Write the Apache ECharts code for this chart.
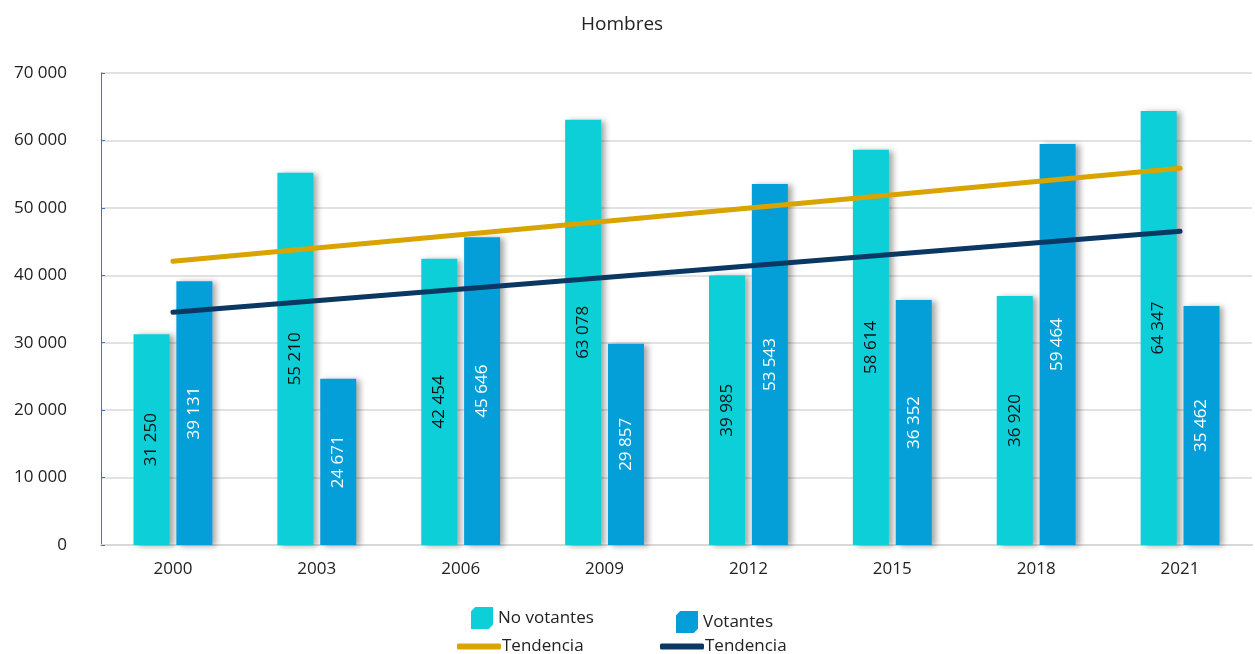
<!DOCTYPE html>
<html>
<head>
<meta charset="utf-8">
<script src="https://cdn.jsdelivr.net/npm/echarts@6/dist/echarts.min.js"></script>
<style>html,body{margin:0;padding:0;background:#fff}#c{width:1255px;height:654px}</style>
</head>
<body>
<div id="c"></div>
<script>
const categories = ['2000','2003','2006','2009','2012','2015','2018','2021'];
const noVotantes = [31250, 55210, 42454, 63078, 39985, 58614, 36920, 64347];
const votantes = [39131, 24671, 45646, 29857, 53543, 36352, 59464, 35462];
// trend lines: value at first and last category
const tendenciaNoVot = [42080, null, null, null, null, null, null, 55880];
const tendenciaVot = [34510, null, null, null, null, null, null, 46520];
const yTicks = [0, 10000, 20000, 30000, 40000, 50000, 60000, 70000];

const FONT = '"Open Sans", "Noto Sans", sans-serif';
const fmt = v => String(v).replace(/\B(?=(\d{3})+(?!\d))/g, ' ');
const cube = 'path://M0,4 L4,0 L21,0 L21,17 L17,21 L0,21 Z';

const chart = echarts.init(document.getElementById('c'));
chart.setOption({
  animation: false,
  title: {text: 'Hombres', left: 576, top: 10,
    textStyle: {fontFamily: FONT, fontSize: 19, fontWeight: 'normal', color: '#222'}},
  grid: {left: 101, right: 3, top: 73, bottom: 109, containLabel: false},
  legend: [
    {data: ['No votantes'], left: 466, top: 602, icon: cube, itemWidth: 22, itemHeight: 22, itemGap: 0,
      textStyle: {fontFamily: FONT, fontSize: 17, color: '#222'}},
    {data: ['Votantes'], left: 671, top: 606, icon: cube, itemWidth: 22, itemHeight: 22, itemGap: 0,
      textStyle: {fontFamily: FONT, fontSize: 17, color: '#222'}},
    {data: ['T1'], left: 452, top: 633, icon: 'roundRect', itemWidth: 44, itemHeight: 6, itemGap: 0,
      formatter: () => 'Tendencia', textStyle: {fontFamily: FONT, fontSize: 17, color: '#222', padding: [0,0,0,-4]}},
    {data: ['T2'], left: 655, top: 633, icon: 'roundRect', itemWidth: 44, itemHeight: 6, itemGap: 0,
      formatter: () => 'Tendencia', textStyle: {fontFamily: FONT, fontSize: 17, color: '#222', padding: [0,0,0,-4]}}
  ],
  xAxis: {
    type: 'category', data: categories,
    axisLine: {lineStyle: {color: '#d9d9d9', width: 2}},
    axisTick: {show: false},
    axisLabel: {fontFamily: FONT, fontSize: 17, color: '#222', margin: 16}
  },
  yAxis: {
    type: 'value', min: 0, max: 70000, interval: 10000,
    axisLine: {show: true, lineStyle: {color: '#2f7bd0', width: 1}},
    axisTick: {show: true, inside: true, length: 4, lineStyle: {color: '#2f7bd0'}},
    axisLabel: {fontFamily: FONT, fontSize: 17, color: '#222', margin: 34,
      formatter: v => yTicks.includes(v) ? fmt(v) : ''},
    splitLine: {lineStyle: {color: '#d9d9d9', width: 1.5}}
  },
  series: [
    {name: 'No votantes', type: 'bar', data: noVotantes, barWidth: 36, barGap: '19%',
      itemStyle: {color: '#0ccfd8', shadowColor: 'rgba(0,0,0,0.35)', shadowBlur: 6, shadowOffsetX: 4, shadowOffsetY: 1},
      label: {show: true, position: 'inside', rotate: 90, formatter: p => fmt(p.value),
        fontFamily: FONT, fontSize: 17, color: '#111'}},
    {name: 'Votantes', type: 'bar', data: votantes, barWidth: 36,
      itemStyle: {color: '#049fd9', shadowColor: 'rgba(0,0,0,0.35)', shadowBlur: 6, shadowOffsetX: 4, shadowOffsetY: 1},
      label: {show: true, position: 'inside', rotate: 90, formatter: p => fmt(p.value),
        fontFamily: FONT, fontSize: 17, color: '#fff'}},
    {name: 'T1', type: 'line', data: tendenciaNoVot, connectNulls: true, symbol: 'none', z: 5,
      lineStyle: {color: '#d9a400', width: 5, cap: 'round'}, itemStyle: {color: '#d9a400'}},
    {name: 'T2', type: 'line', data: tendenciaVot, connectNulls: true, symbol: 'none', z: 5,
      lineStyle: {color: '#0b3763', width: 5, cap: 'round'}, itemStyle: {color: '#0b3763'}}
  ]
});
</script>
</body>
</html>
